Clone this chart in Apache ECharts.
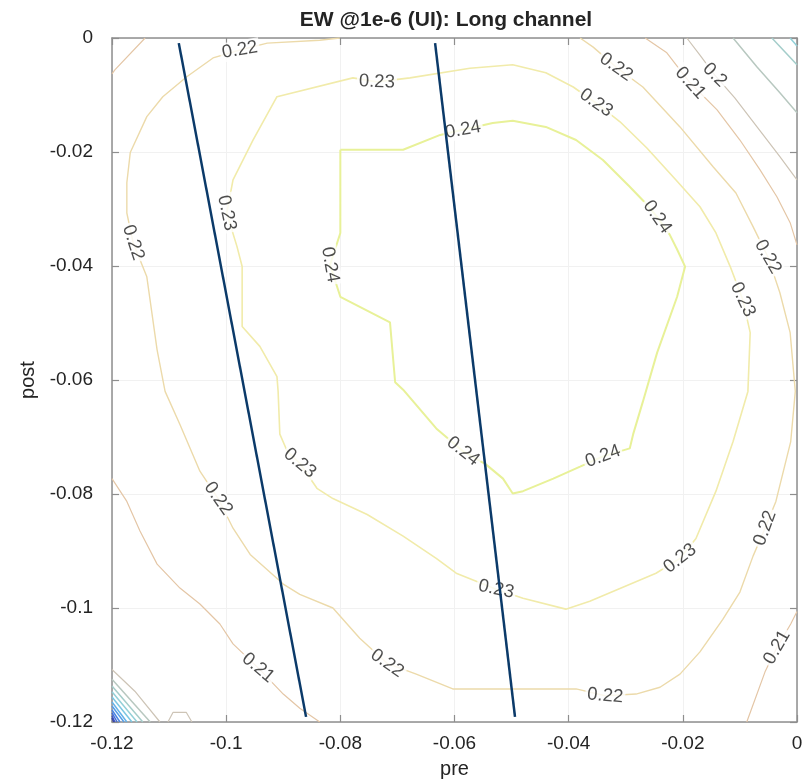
<!DOCTYPE html>
<html>
<head>
<meta charset="utf-8">
<script src="https://cdn.jsdelivr.net/npm/echarts/dist/echarts.min.js"></script>
<style>
  html, body { margin: 0; padding: 0; background: #fff; }
  #chart { width: 806px; height: 784px; }
</style>
</head>
<body>
<div id="chart"></div>
<script>
// Axis ranges and tick labels (pre / post tap weights)
const axisMin = -0.12, axisMax = 0, axisStep = 0.02;
const xTickLabels = ['-0.12', '-0.1', '-0.08', '-0.06', '-0.04', '-0.02', '0'];
const yTickLabels = ['-0.12', '-0.1', '-0.08', '-0.06', '-0.04', '-0.02', '0'];

// Eye-width contour paths, [pre, post] pairs
const ring024 = [
  [-0.0800,-0.0196],[-0.0690,-0.0196],[-0.0625,-0.0170],[-0.0585,-0.0161],[-0.0533,-0.0149],
  [-0.0498,-0.0145],[-0.0440,-0.0156],[-0.0387,-0.0179],[-0.0340,-0.0214],[-0.0293,-0.0261],
  [-0.0266,-0.0289],[-0.0245,-0.0314],[-0.0223,-0.0345],[-0.0210,-0.0371],[-0.0196,-0.0401],
  [-0.0210,-0.0454],[-0.0245,-0.0552],[-0.0270,-0.0638],[-0.0287,-0.0695],[-0.0293,-0.0720],
  [-0.0340,-0.0734],[-0.0380,-0.0752],[-0.0427,-0.0773],[-0.0480,-0.0795],[-0.0498,-0.0799],
  [-0.0515,-0.0773],[-0.0545,-0.0748],[-0.0585,-0.0725],[-0.0632,-0.0685],[-0.0690,-0.0617],
  [-0.0704,-0.0604],[-0.0713,-0.0499],[-0.0800,-0.0454],[-0.0818,-0.0398],[-0.0800,-0.0342],
  [-0.0800,-0.0196]
];
const ring023 = [
  [-0.0736,-0.0077],[-0.0678,-0.0070],[-0.0573,-0.0053],[-0.0498,-0.0047],[-0.0440,-0.0061],
  [-0.0392,-0.0086],[-0.0352,-0.0114],[-0.0310,-0.0147],[-0.0263,-0.0193],[-0.0212,-0.0249],
  [-0.0170,-0.0296],[-0.0142,-0.0342],[-0.0117,-0.0401],[-0.0095,-0.0459],[-0.0082,-0.0517],
  [-0.0086,-0.0620],[-0.0112,-0.0708],[-0.0142,-0.0795],[-0.0177,-0.0878],[-0.0205,-0.0913],
  [-0.0247,-0.0939],[-0.0363,-0.0988],[-0.0405,-0.1002],[-0.0480,-0.0983],[-0.0527,-0.0967],
  [-0.0597,-0.0939],[-0.0632,-0.0913],[-0.0690,-0.0874],[-0.0753,-0.0836],[-0.0813,-0.0808],
  [-0.0841,-0.0790],[-0.0871,-0.0746],[-0.0893,-0.0725],[-0.0906,-0.0695],[-0.0909,-0.0620],
  [-0.0911,-0.0594],[-0.0941,-0.0541],[-0.0972,-0.0506],[-0.0972,-0.0401],[-0.0981,-0.0366],
  [-0.0999,-0.0307],[-0.0988,-0.0249],[-0.0953,-0.0179],[-0.0911,-0.0103],[-0.0778,-0.0070],
  [-0.0736,-0.0077]
];
const arc022 = [
  [-0.0380,0],[-0.0357,-0.0016],[-0.0317,-0.0051],[-0.0270,-0.0086],[-0.0205,-0.0156],
  [-0.0147,-0.0226],[-0.0107,-0.0272],[-0.0077,-0.0331],[-0.0051,-0.0384],[-0.0030,-0.0447],
  [-0.0012,-0.0517],[-0.0003,-0.0620],[-0.0011,-0.0708],[-0.0037,-0.0813],[-0.0056,-0.0860],
  [-0.0077,-0.0909],[-0.0100,-0.0972],[-0.0130,-0.1020],[-0.0170,-0.1077],[-0.0205,-0.1116],
  [-0.0240,-0.1139],[-0.0282,-0.1151],[-0.0336,-0.1154],[-0.0387,-0.1142],[-0.0603,-0.1142],
  [-0.0667,-0.1116],[-0.0718,-0.1097],[-0.0766,-0.1053],[-0.0813,-0.1000],[-0.0871,-0.0976],
  [-0.0900,-0.0958],[-0.0958,-0.0906],[-0.0988,-0.0860],[-0.1014,-0.0808],[-0.1046,-0.0760],
  [-0.1081,-0.0678],[-0.1107,-0.0620],[-0.1121,-0.0547],[-0.1139,-0.0419],[-0.1163,-0.0359],
  [-0.1174,-0.0307],[-0.1174,-0.0254],[-0.1168,-0.0201],[-0.1139,-0.0138],[-0.1111,-0.0103],
  [-0.1069,-0.0068],[-0.1023,-0.0035],[-0.0976,-0.0021],[-0.0928,-0.0009],[-0.0836,-0.0004],
  [-0.0801,0]
];
const arcs021 = [
  [[-0.1200,-0.0063],[-0.1195,-0.0056],[-0.1142,0]],
  [[-0.1200,-0.0773],[-0.1174,-0.0813],[-0.1151,-0.0865],[-0.1121,-0.0923],[-0.1081,-0.0965],
   [-0.1046,-0.0993],[-0.1011,-0.1028],[-0.0988,-0.1063],[-0.0944,-0.1105],[-0.0900,-0.1151],
   [-0.0871,-0.1176],[-0.0836,-0.1200]],
  [[-0.0266,0],[-0.0228,-0.0026],[-0.0187,-0.0079],[-0.0140,-0.0126],[-0.0100,-0.0179],
   [-0.0065,-0.0231],[-0.0035,-0.0279],[-0.0012,-0.0324],[0,-0.0363]],
  [[0,-0.1006],[-0.0011,-0.1028],[-0.0035,-0.1069],[-0.0056,-0.1112],[-0.0088,-0.1200]]
];
const arcs020 = [
  [[-0.0193,0],[-0.0170,-0.0030],[-0.0144,-0.0065],[-0.0109,-0.0105],[-0.0070,-0.0156],
   [-0.0030,-0.0208],[0,-0.0249]],
  [[-0.1200,-0.1108],[-0.1160,-0.1146],[-0.1116,-0.1200]],
  [[-0.1102,-0.1200],[-0.1093,-0.1183],[-0.1070,-0.1183],[-0.1060,-0.1200]]
];
const arcs019 = [
  [[-0.0112,0],[-0.0070,-0.0051],[-0.0030,-0.0096],[0,-0.0131]],
  [[-0.1200,-0.1125],[-0.1133,-0.1200]]
];
const arcs018 = [
  [[-0.0044,0],[0,-0.0047]],
  [[-0.1200,-0.1137],[-0.1146,-0.1200]]
];
const arcs017 = [
  [[-0.0012,0],[0,-0.0014]],
  [[-0.1200,-0.1147],[-0.1156,-0.1200]]
];
const arcs016 = [[[-0.1200,-0.1156],[-0.1165,-0.1200]]];
const arcs015 = [[[-0.1200,-0.1165],[-0.1174,-0.1200]]];
const arcs014 = [[[-0.1200,-0.1172],[-0.1179,-0.1200]]];
const arcs013 = [[[-0.1200,-0.1179],[-0.1186,-0.1200]]];
const arcs012 = [[[-0.1200,-0.1184],[-0.1191,-0.1200]]];
const arcs011 = [[[-0.1200,-0.1189],[-0.1195,-0.1200]]];
const arcs010 = [[[-0.1200,-0.1193],[-0.1197,-0.1200]]];

// Inline contour labels: [pre, post, level]
const labelSpots = [
  [-0.0585,-0.0161,0.24],[-0.0245,-0.0314,0.24],[-0.0340,-0.0734,0.24],[-0.0585,-0.0725,0.24],[-0.0818,-0.0398,0.24],
  [-0.0736,-0.0077,0.23],[-0.0352,-0.0114,0.23],[-0.0095,-0.0459,0.23],[-0.0205,-0.0913,0.23],
  [-0.0527,-0.0967,0.23],[-0.0871,-0.0746,0.23],[-0.0999,-0.0307,0.23],
  [-0.0317,-0.0051,0.22],[-0.0051,-0.0384,0.22],[-0.0056,-0.0860,0.22],[-0.0336,-0.1154,0.22],
  [-0.0718,-0.1097,0.22],[-0.1014,-0.0808,0.22],[-0.1163,-0.0359,0.22],[-0.0976,-0.0021,0.22],
  [-0.0187,-0.0079,0.21],[-0.0944,-0.1105,0.21],[-0.0035,-0.1069,0.21],
  [-0.0144,-0.0065,0.2]
];
// text rotation of each label, degrees (follows the contour)
const labelTilt = [10,-55,20,-38,-80, -2,-35,-65,38,-12,-40,-78, -35,-60,70,-5,-35,-55,-72,10, -48,-40,60, -45];

// Two straight boundary lines drawn over the contours
const boundaryA = [[-0.1083,-0.0009],[-0.0860,-0.1191]];
const boundaryB = [[-0.0634,-0.0009],[-0.0494,-0.1191]];

// ---- styling ----
const levelColor = {
  '0.24': '#e8f198', '0.23': '#f1ebaa', '0.22': '#ecdaaa', '0.21': '#e4c6a6',
  '0.2': '#cdc4b6', '0.19': '#b8c8c0', '0.18': '#a4cdca', '0.17': '#92d0d8',
  '0.16': '#7ac6e2', '0.15': '#64b2e8', '0.14': '#549ce8', '0.13': '#4884e2',
  '0.12': '#426cd6', '0.11': '#3e56c2', '0.1': '#3a44a8'
};
const levelWidth = { '0.24': 2, '0.23': 1.6, '0.22': 1.4 };
const font = "'Liberation Sans', Arial, Helvetica, sans-serif";
const axisGrey = '#8e8e8e';
const textColor = '#242424';

const contourSet = [
  [0.24, [ring024]], [0.23, [ring023]], [0.22, [arc022]], [0.21, arcs021], [0.2, arcs020],
  [0.19, arcs019], [0.18, arcs018], [0.17, arcs017], [0.16, arcs016], [0.15, arcs015],
  [0.14, arcs014], [0.13, arcs013], [0.12, arcs012], [0.11, arcs011], [0.1, arcs010]
];

const series = [];
contourSet.forEach(([level, segments]) => {
  const key = String(level);
  segments.forEach(seg => {
    series.push({
      type: 'line', data: seg, symbol: 'none', silent: true, z: 2,
      lineStyle: { color: levelColor[key], width: levelWidth[key] || (level < 0.2 ? 1.5 : 1.2) }
    });
  });
});

series.push({
  type: 'scatter', z: 4, silent: true, symbolSize: 1,
  itemStyle: { color: 'rgba(255,255,255,0)' },
  data: labelSpots.map((s, i) => ({
    value: [s[0], s[1]],
    label: { rotate: labelTilt[i], formatter: String(s[2]) }
  })),
  label: {
    show: true, position: 'inside', fontSize: 18.5, color: '#1f1f1f', fontFamily: font,
    backgroundColor: '#ffffff', padding: [0, 2]
  }
});

[boundaryA, boundaryB].forEach(seg => {
  series.push({
    type: 'line', data: seg, symbol: 'none', silent: true, z: 10,
    lineStyle: { color: '#0b3a69', width: 2.5 }
  });
});

const tickIndex = v => Math.round((v - axisMin) / axisStep);
const frameAxis = (pos) => ({
  type: 'value', min: axisMin, max: axisMax, interval: axisStep, position: pos,
  axisLine: { show: true, onZero: false, lineStyle: { color: axisGrey, width: 1.5 } },
  axisTick: { show: true, inside: true, length: 7, lineStyle: { color: axisGrey, width: 1.2 } },
  axisLabel: { show: false },
  splitLine: { show: false }
});

const chart = echarts.init(document.getElementById('chart'), null, { renderer: 'canvas' });
chart.setOption({
  animation: false,
  backgroundColor: '#ffffff',
  grid: { left: 112, top: 38, width: 685, height: 685 },
  graphic: [{
    type: 'text', x: 446, y: 20,
    style: {
      text: 'EW @1e-6 (UI): Long channel', fill: textColor, font: 'bold 21px ' + font,
      align: 'center', verticalAlign: 'middle'
    }
  }],
  xAxis: [
    Object.assign(frameAxis('bottom'), {
      axisLabel: { show: true, fontSize: 19, color: textColor, fontFamily: font, margin: 12,
        formatter: v => xTickLabels[tickIndex(v)] },
      splitLine: { show: true, lineStyle: { color: '#f1f1f1', width: 1 } },
      name: 'pre', nameLocation: 'middle', nameGap: 37,
      nameTextStyle: { fontSize: 20, color: textColor, fontFamily: font }
    }),
    frameAxis('top')
  ],
  yAxis: [
    Object.assign(frameAxis('left'), {
      axisLabel: { show: true, fontSize: 19, color: textColor, fontFamily: font, margin: 19,
        formatter: v => yTickLabels[tickIndex(v)] },
      splitLine: { show: true, lineStyle: { color: '#f1f1f1', width: 1 } },
      name: 'post', nameLocation: 'middle', nameGap: 72,
      nameTextStyle: { fontSize: 20, color: textColor, fontFamily: font }
    }),
    frameAxis('right')
  ],
  series: series
});
</script>
</body>
</html>
